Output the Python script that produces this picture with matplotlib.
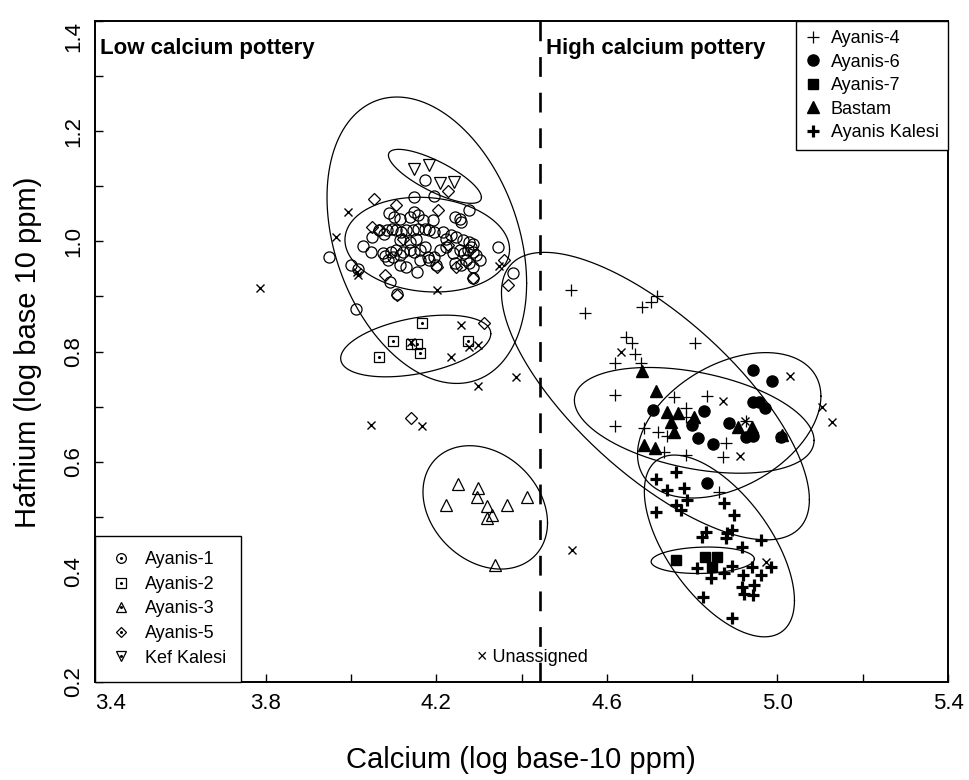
import numpy as np
import matplotlib.pyplot as plt
from matplotlib.lines import Line2D
from matplotlib.ticker import FixedLocator

plt.rcParams['font.family'] = ['Liberation Sans', 'DejaVu Sans']

#calcium (x) and hafnium (y), log base-10 ppm
ay1_ca = [4.174, 4.148, 4.196, 4.278, 4.089, 4.100, 4.114, 4.138, 4.149, 4.157, 4.170, 4.192, 4.243, 4.255, 4.259,
          4.067, 4.085, 4.097, 4.106, 4.118, 4.130, 4.145, 4.157, 4.173, 4.184, 4.196, 4.216, 4.235, 4.247, 4.263, 4.278, 4.286,
          4.050, 4.077,
          4.028, 4.048, 4.075, 4.095, 4.106, 4.114, 4.122, 4.138, 4.149, 4.161, 4.173, 4.181, 4.196, 4.208, 4.223, 4.239,
          4.255, 4.266, 4.274, 4.282, 4.286, 4.294, 4.302,
          4.001, 4.017, 4.079, 4.087, 4.099, 4.130, 4.155, 4.184, 4.200, 4.243, 4.259, 4.270, 4.278, 4.286, 4.344, 4.380,
          4.091, 4.108, 4.286, 4.011, 3.949,
          4.114, 4.138, 4.153, 4.223, 4.161, 4.114]
ay1_hf = [1.112, 1.080, 1.083, 1.057, 1.051, 1.045, 1.041, 1.045, 1.054, 1.048, 1.038, 1.038, 1.045, 1.041, 1.035,
          1.020, 1.020, 1.022, 1.020, 1.017, 1.020, 1.020, 1.023, 1.023, 1.020, 1.017, 1.017, 1.011, 1.008, 1.002, 0.999, 0.996,
          1.007, 1.014,
          0.991, 0.981, 0.978, 0.981, 0.984, 0.975, 0.981, 0.984, 0.981, 0.984, 0.990, 0.972, 0.972, 0.984, 0.990, 0.978,
          0.984, 0.978, 0.984, 0.990, 0.981, 0.975, 0.966,
          0.957, 0.949, 0.973, 0.966, 0.971, 0.954, 0.945, 0.966, 0.957, 0.960, 0.957, 0.966, 0.960, 0.954, 0.989, 0.942,
          0.927, 0.904, 0.933, 0.878, 0.971,
          1.002, 0.999, 1.005, 1.005, 0.966, 0.957]

ay2_ca = [4.166, 4.098, 4.065, 4.142, 4.156, 4.161, 4.274]
ay2_hf = [0.852, 0.819, 0.790, 0.813, 0.813, 0.797, 0.819]

ay3_ca = [4.250, 4.297, 4.295, 4.224, 4.318, 4.367, 4.412, 4.330, 4.320, 4.339]
ay3_hf = [0.559, 0.552, 0.536, 0.521, 0.519, 0.521, 0.536, 0.503, 0.498, 0.412]

ay5_ca = [4.053, 4.106, 4.204, 4.050, 4.066, 4.122, 4.079, 4.108, 4.227, 4.227, 4.358, 4.368, 4.202, 4.247, 4.286,
          4.312, 4.142]
ay5_hf = [1.076, 1.066, 1.057, 1.026, 1.020, 1.005, 0.939, 0.902, 0.993, 1.092, 0.966, 0.920, 0.954, 0.954, 0.933,
          0.851, 0.680]

kef_ca = [4.149, 4.184, 4.208, 4.241]
kef_hf = [1.132, 1.138, 1.105, 1.108]

un_ca = [3.786, 3.993, 3.964, 4.014, 4.017, 4.202, 4.348, 4.259, 4.297, 4.278, 4.234, 4.299, 4.388, 4.046, 4.166,
         4.142, 4.519, 4.634, 4.873, 5.030, 5.105, 5.128, 4.913, 4.925, 4.974]
un_hf = [0.915, 1.054, 1.008, 0.945, 0.939, 0.911, 0.955, 0.848, 0.812, 0.808, 0.790, 0.737, 0.754, 0.666, 0.665,
         0.817, 0.440, 0.799, 0.710, 0.755, 0.699, 0.672, 0.610, 0.674, 0.418]

ay4_ca = [4.517, 4.550, 4.683, 4.704, 4.718, 4.646, 4.660, 4.665, 4.620, 4.681, 4.807, 4.620, 4.758, 4.836, 4.786,
          4.786, 4.620, 4.688, 4.721, 4.740, 4.735, 4.786, 4.880, 4.873, 4.927, 4.864]
ay4_hf = [0.911, 0.870, 0.881, 0.890, 0.901, 0.826, 0.815, 0.795, 0.779, 0.779, 0.815, 0.721, 0.717, 0.719, 0.697,
          0.681, 0.665, 0.661, 0.654, 0.646, 0.617, 0.612, 0.634, 0.608, 0.674, 0.545]

ay6_ca = [4.709, 4.800, 4.829, 4.815, 4.850, 4.887, 4.927, 4.943, 4.943, 4.988, 4.943, 4.957, 4.971, 5.009, 4.836]
ay6_hf = [0.694, 0.666, 0.692, 0.643, 0.632, 0.670, 0.645, 0.646, 0.766, 0.746, 0.708, 0.708, 0.697, 0.645, 0.561]

ay7_ca = [4.763, 4.831, 4.859, 4.847]
ay7_hf = [0.421, 0.427, 0.427, 0.409]

bas_ca = [4.683, 4.716, 4.740, 4.768, 4.751, 4.758, 4.805, 4.688, 4.712, 4.908, 4.941, 5.011]
bas_hf = [0.764, 0.728, 0.690, 0.688, 0.672, 0.654, 0.681, 0.630, 0.625, 0.663, 0.663, 0.648]

akal_ca = [4.716, 4.742, 4.763, 4.782, 4.789, 4.763, 4.775, 4.716, 4.875, 4.899, 4.833, 4.824, 4.882, 4.880, 4.894,
           4.918, 4.962, 4.812, 4.845, 4.875, 4.894, 4.920, 4.941, 4.962, 4.918, 4.946, 4.922, 4.943, 4.985, 4.826, 4.894]
akal_hf = [0.568, 0.548, 0.581, 0.552, 0.530, 0.521, 0.512, 0.509, 0.525, 0.503, 0.472, 0.463, 0.470, 0.461, 0.476,
           0.445, 0.458, 0.407, 0.389, 0.398, 0.411, 0.394, 0.409, 0.394, 0.372, 0.376, 0.360, 0.358, 0.409, 0.354, 0.316]

#group confidence ellipses: centre, half-extent in x and y, correlation
ell_group = ['Ayanis-1', 'Ayanis-2', 'Ayanis-3', 'Ayanis-5', 'Kef Kalesi',
             'Ayanis-4', 'Ayanis-6', 'Ayanis-7', 'Bastam', 'Ayanis Kalesi']
ell_cx = [4.179, 4.152, 4.315, 4.178, 4.197, 4.714, 4.887, 4.825, 4.805, 4.864]
ell_cy = [0.994, 0.810, 0.517, 1.002, 1.118, 0.719, 0.666, 0.421, 0.675, 0.447]
ell_sx = [0.193, 0.176, 0.146, 0.234, 0.109, 0.361, 0.215, 0.121, 0.281, 0.176]
ell_sy = [0.086, 0.056, 0.112, 0.260, 0.049, 0.261, 0.132, 0.024, 0.096, 0.165]
ell_rho = [-0.10, 0.40, -0.25, -0.30, -0.78, -0.72, 0.40, 0.10, -0.38, -0.60]

caDivide = 4.443

#axis ticks
xMajor = [3.4, 3.8, 4.2, 4.6, 5.0, 5.4]
xMinor = [3.6, 4.0, 4.4, 4.8, 5.2]
yMajor = [0.2, 0.4, 0.6, 0.8, 1.0, 1.2, 1.4]
yMinor = [0.3, 0.5, 0.7, 0.9, 1.1, 1.3]

fig = plt.figure(figsize=(9.7, 7.8), dpi=100)
ax = fig.add_axes([95/970, 1-682/780, 853/970, 661/780])

#ellipses
t = np.linspace(0, 2*np.pi, 300)
for i in range(len(ell_group)):
    ex = ell_cx[i] + ell_sx[i]*np.cos(t)
    ey = ell_cy[i] + ell_sy[i]*(ell_rho[i]*np.cos(t) + np.sqrt(1-ell_rho[i]**2)*np.sin(t))
    ax.plot(ex, ey, color='black', lw=0.9, zorder=2)

ax.axvline(caDivide, color='black', lw=1.9, dashes=(7.5, 6), zorder=2)

#open symbols (with centre dot), low calcium groups
openStyle = dict(ls='none', mfc='none', mec='black', mew=0.9, zorder=3)
dotStyle = dict(ls='none', marker='o', ms=1.2, color='black', zorder=3)
ax.plot(ay1_ca, ay1_hf, marker='o', ms=8, **openStyle)
ax.plot(ay2_ca, ay2_hf, marker='s', ms=7, **openStyle)
ax.plot(ay2_ca, ay2_hf, **dotStyle)
ax.plot(ay3_ca, ay3_hf, marker='^', ms=8.5, **openStyle)
ax.plot(ay5_ca, ay5_hf, marker='D', ms=6, **openStyle)
ax.plot(kef_ca, kef_hf, marker='v', ms=8.5, **openStyle)
ax.plot(un_ca, un_hf, marker='x', ms=6, ls='none', color='black', mew=1.0, zorder=3)

#high calcium groups
ax.plot(ay4_ca, ay4_hf, marker='+', ms=9, ls='none', color='black', mew=0.9, zorder=3)
ax.plot(ay6_ca, ay6_hf, marker='o', ms=8, ls='none', color='black', zorder=3)
ax.plot(ay7_ca, ay7_hf, marker='s', ms=7.5, ls='none', color='black', zorder=3)
ax.plot(bas_ca, bas_hf, marker='^', ms=8.5, ls='none', color='black', zorder=3)
ax.plot(akal_ca, akal_hf, marker='+', ms=8.5, ls='none', color='black', mew=2.3, zorder=3)

ax.set_xlim(3.4, 5.4)
ax.set_ylim(0.2, 1.4)
ax.xaxis.set_major_locator(FixedLocator(xMajor))
ax.xaxis.set_minor_locator(FixedLocator(xMinor))
ax.yaxis.set_major_locator(FixedLocator(yMajor))
ax.yaxis.set_minor_locator(FixedLocator(yMinor))
ax.set_xticklabels(['%.1f' % v for v in xMajor])
ax.set_yticklabels(['%.1f' % v for v in yMajor])
ax.tick_params(which='both', direction='in', length=6, width=1.0, top=False, right=False)
ax.tick_params(which='major', labelsize=16, pad=8)
ax.tick_params(axis='y', labelrotation=90)
for lab in ax.get_yticklabels():
    lab.set_va('center')
ax.get_yticklabels()[-1].set_va('top')
ax.get_xticklabels()[0].set_ha('left')
for s in ax.spines.values():
    s.set_linewidth(1.4)

ax.text(0.006, 0.959, 'Low calcium pottery', transform=ax.transAxes, fontsize=16, fontweight='bold', va='center')
ax.text(0.529, 0.959, 'High calcium pottery', transform=ax.transAxes, fontsize=16, fontweight='bold', va='center')
ax.text(4.295, 0.244, '\u00d7 Unassigned', fontsize=13, va='center')

fig.text(28/970, 1-352/780, 'Hafnium (log base 10 ppm)', rotation=90, ha='center', va='center', fontsize=21)
fig.text(521/970, 1-760/780, 'Calcium (log base-10 ppm)', ha='center', va='center', fontsize=21)

#legends
def openHandle(m, ms, dot=True):
    h = Line2D([], [], marker=m, ms=ms, ls='none', mfc='none', mec='black', mew=0.9)
    if dot:
        return (h, Line2D([], [], marker='o', ms=1.2, ls='none', color='black'))
    return h

lowHandles = [openHandle('o', 7), openHandle('s', 6.5), openHandle('^', 7), openHandle('D', 5.5), openHandle('v', 7)]
lowLabels = ['Ayanis-1', 'Ayanis-2', 'Ayanis-3', 'Ayanis-5', 'Kef Kalesi']
leg1 = ax.legend(lowHandles, lowLabels, loc='lower left', bbox_to_anchor=(0, 0), borderaxespad=0, fontsize=13,
                 fancybox=False, edgecolor='black', framealpha=1, handlelength=1.2, handletextpad=0.7,
                 labelspacing=0.42, borderpad=0.85)
leg1.get_frame().set_linewidth(1.0)
ax.add_artist(leg1)

highHandles = [Line2D([], [], marker='+', ms=9, ls='none', color='black', mew=0.9),
               Line2D([], [], marker='o', ms=8, ls='none', color='black'),
               Line2D([], [], marker='s', ms=7, ls='none', color='black'),
               Line2D([], [], marker='^', ms=8, ls='none', color='black'),
               Line2D([], [], marker='+', ms=8.5, ls='none', color='black', mew=2.3)]
highLabels = ['Ayanis-4', 'Ayanis-6', 'Ayanis-7', 'Bastam', 'Ayanis Kalesi']
leg2 = ax.legend(highHandles, highLabels, loc='upper right', bbox_to_anchor=(1, 1), borderaxespad=0, fontsize=13,
                 fancybox=False, edgecolor='black', framealpha=1, handlelength=0.9, handletextpad=0.55,
                 labelspacing=0.36, borderpad=0.5)
leg2.get_frame().set_linewidth(1.0)

fig.savefig('out.png', dpi=100)
